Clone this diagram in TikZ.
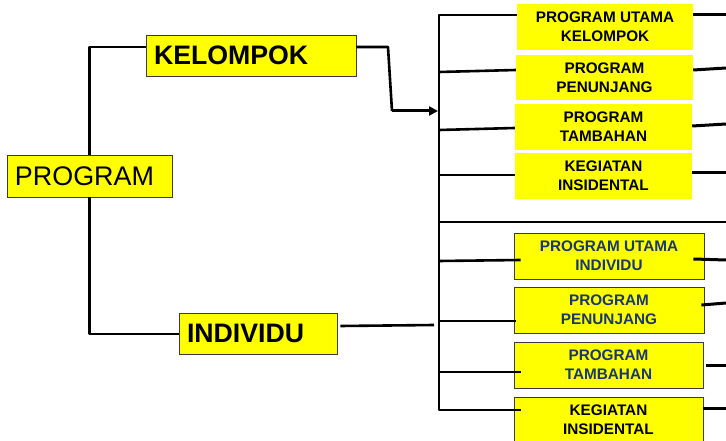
\documentclass[tikz,border=0pt]{standalone}
\usepackage{fontspec}
\setmainfont{Liberation Sans}
\usetikzlibrary{arrows.meta,calc}
\definecolor{boxyellow}{RGB}{255,255,0}
\definecolor{navytext}{RGB}{25,55,115}
\definecolor{rim}{RGB}{60,60,60}
\begin{document}
\begin{tikzpicture}[x=1pt,y=-1pt,
  conn/.style={line width=2.6pt, line join=round},
  stub/.style={line width=3pt},
  head/.style={fill=boxyellow, draw=rim, line width=0.8pt, inner xsep=8pt,
    inner ysep=0pt, minimum height=41pt, align=left,
    font=\fontsize{26.7}{30}\selectfont\bfseries},
  subbox/.style={fill=boxyellow, inner sep=0pt, minimum height=46pt,
    align=center, font=\fontsize{15.3}{19}\selectfont\bfseries},
  framed/.style={subbox, draw=rim, line width=0.8pt, minimum width=190pt},
]
\useasboundingbox (0,0) rectangle (726,441);

% main boxes
\node[head, font=\fontsize{26.9}{30}\selectfont, text width=149pt,
  minimum height=42pt] (prog) at (89.5,176) {PROGRAM};
\node[head, text width=194pt] (kel) at (251,55.5) {KELOMPOK};
\node[head, text width=142pt] (ind) at (258,333.5) {INDIVIDU};

% group programmes
\node[subbox, minimum width=176pt] (b1) at (605,27) {PROGRAM UTAMA\\KELOMPOK};
\node[subbox, minimum width=177pt, minimum height=45pt] (b2) at (604.5,77.5) {PROGRAM\\PENUNJANG};
\node[subbox, minimum width=177pt] (b3) at (603.5,127) {PROGRAM\\TAMBAHAN};
\node[subbox, minimum width=177pt] (b4) at (603.5,176) {KEGIATAN\\INSIDENTAL};

% individual programmes
\node[framed, text=navytext] (b5) at (609,256) {PROGRAM UTAMA\\INDIVIDU};
\node[framed, text=navytext] (b6) at (609,310) {PROGRAM\\PENUNJANG};
\node[framed, text=navytext, minimum width=189pt] (b7) at (608.5,365) {PROGRAM\\TAMBAHAN};
\node[framed, minimum width=189pt] (b8) at (608.5,420) {KEGIATAN\\INSIDENTAL};

% junction points
\coordinate (kj) at (90,47);
\coordinate (ij) at (90,334);
\coordinate (bend1) at (388,47);
\coordinate (bend2) at (392,111);
\coordinate (bt) at (439,15);
\coordinate (bb) at (439,410);
\coordinate (edge) at (726,0);

% left tree
\draw[conn] (prog.north) |- (kel.west |- kj);
\draw[conn] (prog.south) |- (ind.west |- ij);

% KELOMPOK to the bracket
\draw[conn] (kel.east |- kj) -- (bend1) -- (bend2);
\draw[line width=3pt, -{Triangle[length=9pt,width=9pt]}] (bend2) -- (bend2 -| 438,0);

% INDIVIDU to the bracket
\draw[conn] ($(ind.east |- 0,326)+(3,0)$) -- (434,325);

% bracket and branches
\draw[conn] (b1.west |- bt) -- (bt) -- (bb) -- ($(bb -| b8.west)+(7,0)$);
\draw[conn] (439,72) -- (b2.west |- 0,70);
\draw[conn] (439,130) -- (b3.west |- 0,128);
\draw[conn] (439,175) -- (b4.west |- 0,175);
\draw[conn] (439,222) -- (edge |- 0,222);
\draw[conn] (439,261) -- ($(b5.west |- 0,260)+(7,0)$);
\draw[conn] (439,321) -- ($(b6.west |- 0,321)+(2,0)$);
\draw[conn] (439,372) -- ($(b7.west |- 0,372)+(7,0)$);

% stubs leaving to the right
\draw[stub] (b1.east |- 0,15) -- (edge |- 0,15);
\draw[stub] (b2.east |- 0,70) -- (edge |- 0,68);
\draw[stub] (b3.east |- 0,126) -- (edge |- 0,124);
\draw[stub] (b4.east |- 0,173) -- (edge |- 0,173);
\draw[stub] ($(b5.east |- 0,259)+(-11,0)$) -- (edge |- 0,260);
\draw[stub] ($(b6.east |- 0,305)+(-3,0)$) -- (edge |- 0,303);
\draw[stub] ($(b7.east |- 0,365)+(3,0)$) -- (edge |- 0,365);
\draw[stub] (b8.east |- 0,408) -- (edge |- 0,408);
\end{tikzpicture}
\end{document}
